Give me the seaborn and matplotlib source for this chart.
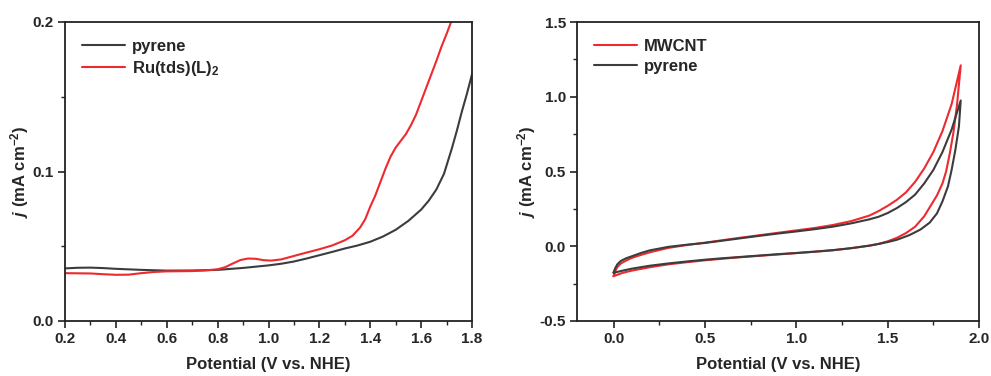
import numpy as np
import pandas as pd
import matplotlib
matplotlib.use("Agg")
import matplotlib.pyplot as plt
import seaborn as sns
from matplotlib.ticker import MultipleLocator

# ---- Left panel data (LSV) ----
lsv_pyrene_potential = [0.2, 0.25, 0.3, 0.35, 0.4, 0.5, 0.6, 0.7, 0.8, 0.9, 1.0, 1.05, 1.1, 1.15,
                        1.2, 1.25, 1.3, 1.35, 1.4, 1.45, 1.5, 1.55, 1.6, 1.63, 1.66, 1.69, 1.72,
                        1.74, 1.76, 1.78, 1.8]
lsv_pyrene = [0.0352, 0.0356, 0.0357, 0.0354, 0.0349, 0.0342, 0.0337, 0.0338, 0.0342, 0.0355,
              0.0372, 0.0383, 0.0398, 0.0418, 0.0440, 0.0462, 0.0485, 0.0505, 0.0530, 0.0565,
              0.0610, 0.0670, 0.0745, 0.0805, 0.0880, 0.0985, 0.1150, 0.1270, 0.1400, 0.1520,
              0.1650]
lsv_ru_potential = [0.2, 0.3, 0.35, 0.4, 0.45, 0.5, 0.55, 0.6, 0.7, 0.75, 0.8, 0.83, 0.86, 0.89,
                    0.92, 0.95, 0.98, 1.01, 1.05, 1.1, 1.15, 1.2, 1.25, 1.3, 1.33, 1.36, 1.38,
                    1.4, 1.42, 1.44, 1.46, 1.48, 1.5, 1.52, 1.54, 1.56, 1.58, 1.6, 1.62, 1.64,
                    1.66, 1.68, 1.7, 1.72]
lsv_ru = [0.0320, 0.0318, 0.0313, 0.0309, 0.0310, 0.0320, 0.0328, 0.0332, 0.0334, 0.0338,
          0.0346, 0.0360, 0.0385, 0.0408, 0.0418, 0.0416, 0.0407, 0.0404, 0.0412, 0.0435,
          0.0458, 0.0480, 0.0505, 0.0540, 0.0570, 0.0625, 0.0680, 0.0765, 0.0840, 0.0930,
          0.1020, 0.1100, 0.1160, 0.1205, 0.1250, 0.1310, 0.1380, 0.1470, 0.1560, 0.1650,
          0.1740, 0.1835, 0.1920, 0.2010]

# ---- Right panel data (CV: forward sweep then reverse sweep) ----
cv_mwcnt_potential = [0.0, 0.01, 0.02, 0.04, 0.07, 0.1, 0.15, 0.2, 0.3, 0.4, 0.5, 0.6, 0.7, 0.8,
                      0.9, 1.0, 1.1, 1.2, 1.3, 1.4, 1.45, 1.5, 1.55, 1.6, 1.65, 1.7, 1.75, 1.8,
                      1.85, 1.9,
                      1.88, 1.86, 1.84, 1.82, 1.8, 1.77, 1.74, 1.7, 1.65, 1.6, 1.55, 1.5, 1.45,
                      1.4, 1.3, 1.2, 1.1, 1.0, 0.9, 0.8, 0.7, 0.6, 0.5, 0.4, 0.3, 0.2, 0.1,
                      0.05, 0.0]
cv_mwcnt_current = [-0.200, -0.165, -0.140, -0.115, -0.095, -0.078, -0.058, -0.040, -0.011,
                    0.008, 0.024, 0.041, 0.058, 0.074, 0.090, 0.106, 0.122, 0.142, 0.168,
                    0.205, 0.235, 0.270, 0.310, 0.360, 0.430, 0.520, 0.630, 0.770, 0.950,
                    1.210,
                    0.950, 0.760, 0.620, 0.500, 0.420, 0.340, 0.280, 0.200, 0.130, 0.088,
                    0.056, 0.033, 0.016, 0.004, -0.013, -0.027, -0.037, -0.046, -0.055,
                    -0.064, -0.073, -0.083, -0.094, -0.107, -0.121, -0.140, -0.163, -0.178,
                    -0.200]
cv_pyrene_potential = [0.0, 0.01, 0.02, 0.04, 0.07, 0.1, 0.15, 0.2, 0.3, 0.4, 0.5, 0.6, 0.7, 0.8,
                       0.9, 1.0, 1.1, 1.2, 1.3, 1.4, 1.45, 1.5, 1.55, 1.6, 1.65, 1.7, 1.75, 1.8,
                       1.85, 1.9,
                       1.89, 1.87, 1.85, 1.83, 1.8, 1.77, 1.73, 1.68, 1.62, 1.55, 1.5, 1.45,
                       1.4, 1.3, 1.2, 1.1, 1.0, 0.9, 0.8, 0.7, 0.6, 0.5, 0.4, 0.3, 0.2, 0.1,
                       0.05, 0.0]
cv_pyrene_current = [-0.175, -0.145, -0.122, -0.098, -0.080, -0.067, -0.045, -0.027, -0.004,
                     0.010, 0.022, 0.038, 0.054, 0.070, 0.085, 0.099, 0.114, 0.131, 0.153,
                     0.180, 0.197, 0.222, 0.255, 0.295, 0.345, 0.420, 0.510, 0.630, 0.780,
                     0.975,
                     0.800, 0.640, 0.510, 0.400, 0.300, 0.220, 0.158, 0.112, 0.075, 0.043,
                     0.028, 0.015, 0.004, -0.013, -0.026, -0.036, -0.045, -0.053, -0.062,
                     -0.071, -0.080, -0.090, -0.102, -0.115, -0.130, -0.150, -0.163, -0.178]

GRAY = "#3c3c3c"
RED = "#ee2a2f"

sns.set_theme(style="ticks")
plt.rcParams["font.family"] = ["Liberation Sans", "DejaVu Sans"]
plt.rcParams["font.weight"] = "bold"
plt.rcParams["axes.unicode_minus"] = False
plt.rcParams["mathtext.fontset"] = "custom"
plt.rcParams["mathtext.rm"] = "Liberation Sans:bold"
plt.rcParams["mathtext.bf"] = "Liberation Sans:bold"
plt.rcParams["mathtext.it"] = "Liberation Sans:bold:italic"

fig = plt.figure(figsize=(9.91, 3.76), dpi=100)
W, H = 991, 376
ax1 = fig.add_axes([65 / W, (H - 321) / H, (472 - 65) / W, (321 - 22) / H])
ax2 = fig.add_axes([577 / W, (H - 321) / H, (979 - 577) / W, (321 - 22) / H])

df_p = pd.DataFrame({"x": lsv_pyrene_potential, "y": lsv_pyrene})
df_r = pd.DataFrame({"x": lsv_ru_potential, "y": lsv_ru})
sns.lineplot(data=df_p, x="x", y="y", ax=ax1, color=GRAY, lw=1.5, label="pyrene")
sns.lineplot(data=df_r, x="x", y="y", ax=ax1, color=RED, lw=1.5, label="Ru(tds)(L)$_2$")
ax1.set_xlim(0.2, 1.8)
ax1.set_ylim(0.0, 0.2)
ax1.xaxis.set_major_locator(MultipleLocator(0.2))
ax1.xaxis.set_minor_locator(MultipleLocator(0.1))
ax1.yaxis.set_major_locator(MultipleLocator(0.1))
ax1.yaxis.set_minor_locator(MultipleLocator(0.05))

df_m = pd.DataFrame({"x": cv_mwcnt_potential, "y": cv_mwcnt_current})
df_q = pd.DataFrame({"x": cv_pyrene_potential, "y": cv_pyrene_current})
sns.lineplot(data=df_m, x="x", y="y", ax=ax2, color=RED, lw=1.5, label="MWCNT",
             sort=False, estimator=None)
sns.lineplot(data=df_q, x="x", y="y", ax=ax2, color=GRAY, lw=1.5, label="pyrene",
             sort=False, estimator=None)
ax2.set_xlim(-0.2, 2.0)
ax2.set_ylim(-0.5, 1.5)
ax2.xaxis.set_major_locator(MultipleLocator(0.5))
ax2.xaxis.set_minor_locator(MultipleLocator(0.25))
ax2.yaxis.set_major_locator(MultipleLocator(0.5))
ax2.yaxis.set_minor_locator(MultipleLocator(0.25))

for ax in (ax1, ax2):
    for s in ax.spines.values():
        s.set_linewidth(1.3)
        s.set_color("#222222")
    ax.tick_params(which="major", direction="out", length=5, width=1.2, labelsize=11,
                   top=False, right=False, color="#222222", pad=3)
    ax.tick_params(which="minor", direction="out", length=3, width=1.0,
                   top=False, right=False, color="#222222")
    for lab in ax.get_xticklabels() + ax.get_yticklabels():
        lab.set_fontweight("bold")
    ax.set_xlabel("Potential (V vs. NHE)", fontsize=12, fontweight="bold", labelpad=8)
    ax.set_ylabel(r"$j$ (mA cm$^{-2}$)", fontsize=12, fontweight="bold", labelpad=1)
    ax.legend(loc="upper left", frameon=False, handlelength=2.6,
              borderaxespad=0.6, labelspacing=0.3, handletextpad=0.4,
              prop={"weight": "bold", "size": 12})

fig.savefig("out.png", dpi=100, facecolor="white")
